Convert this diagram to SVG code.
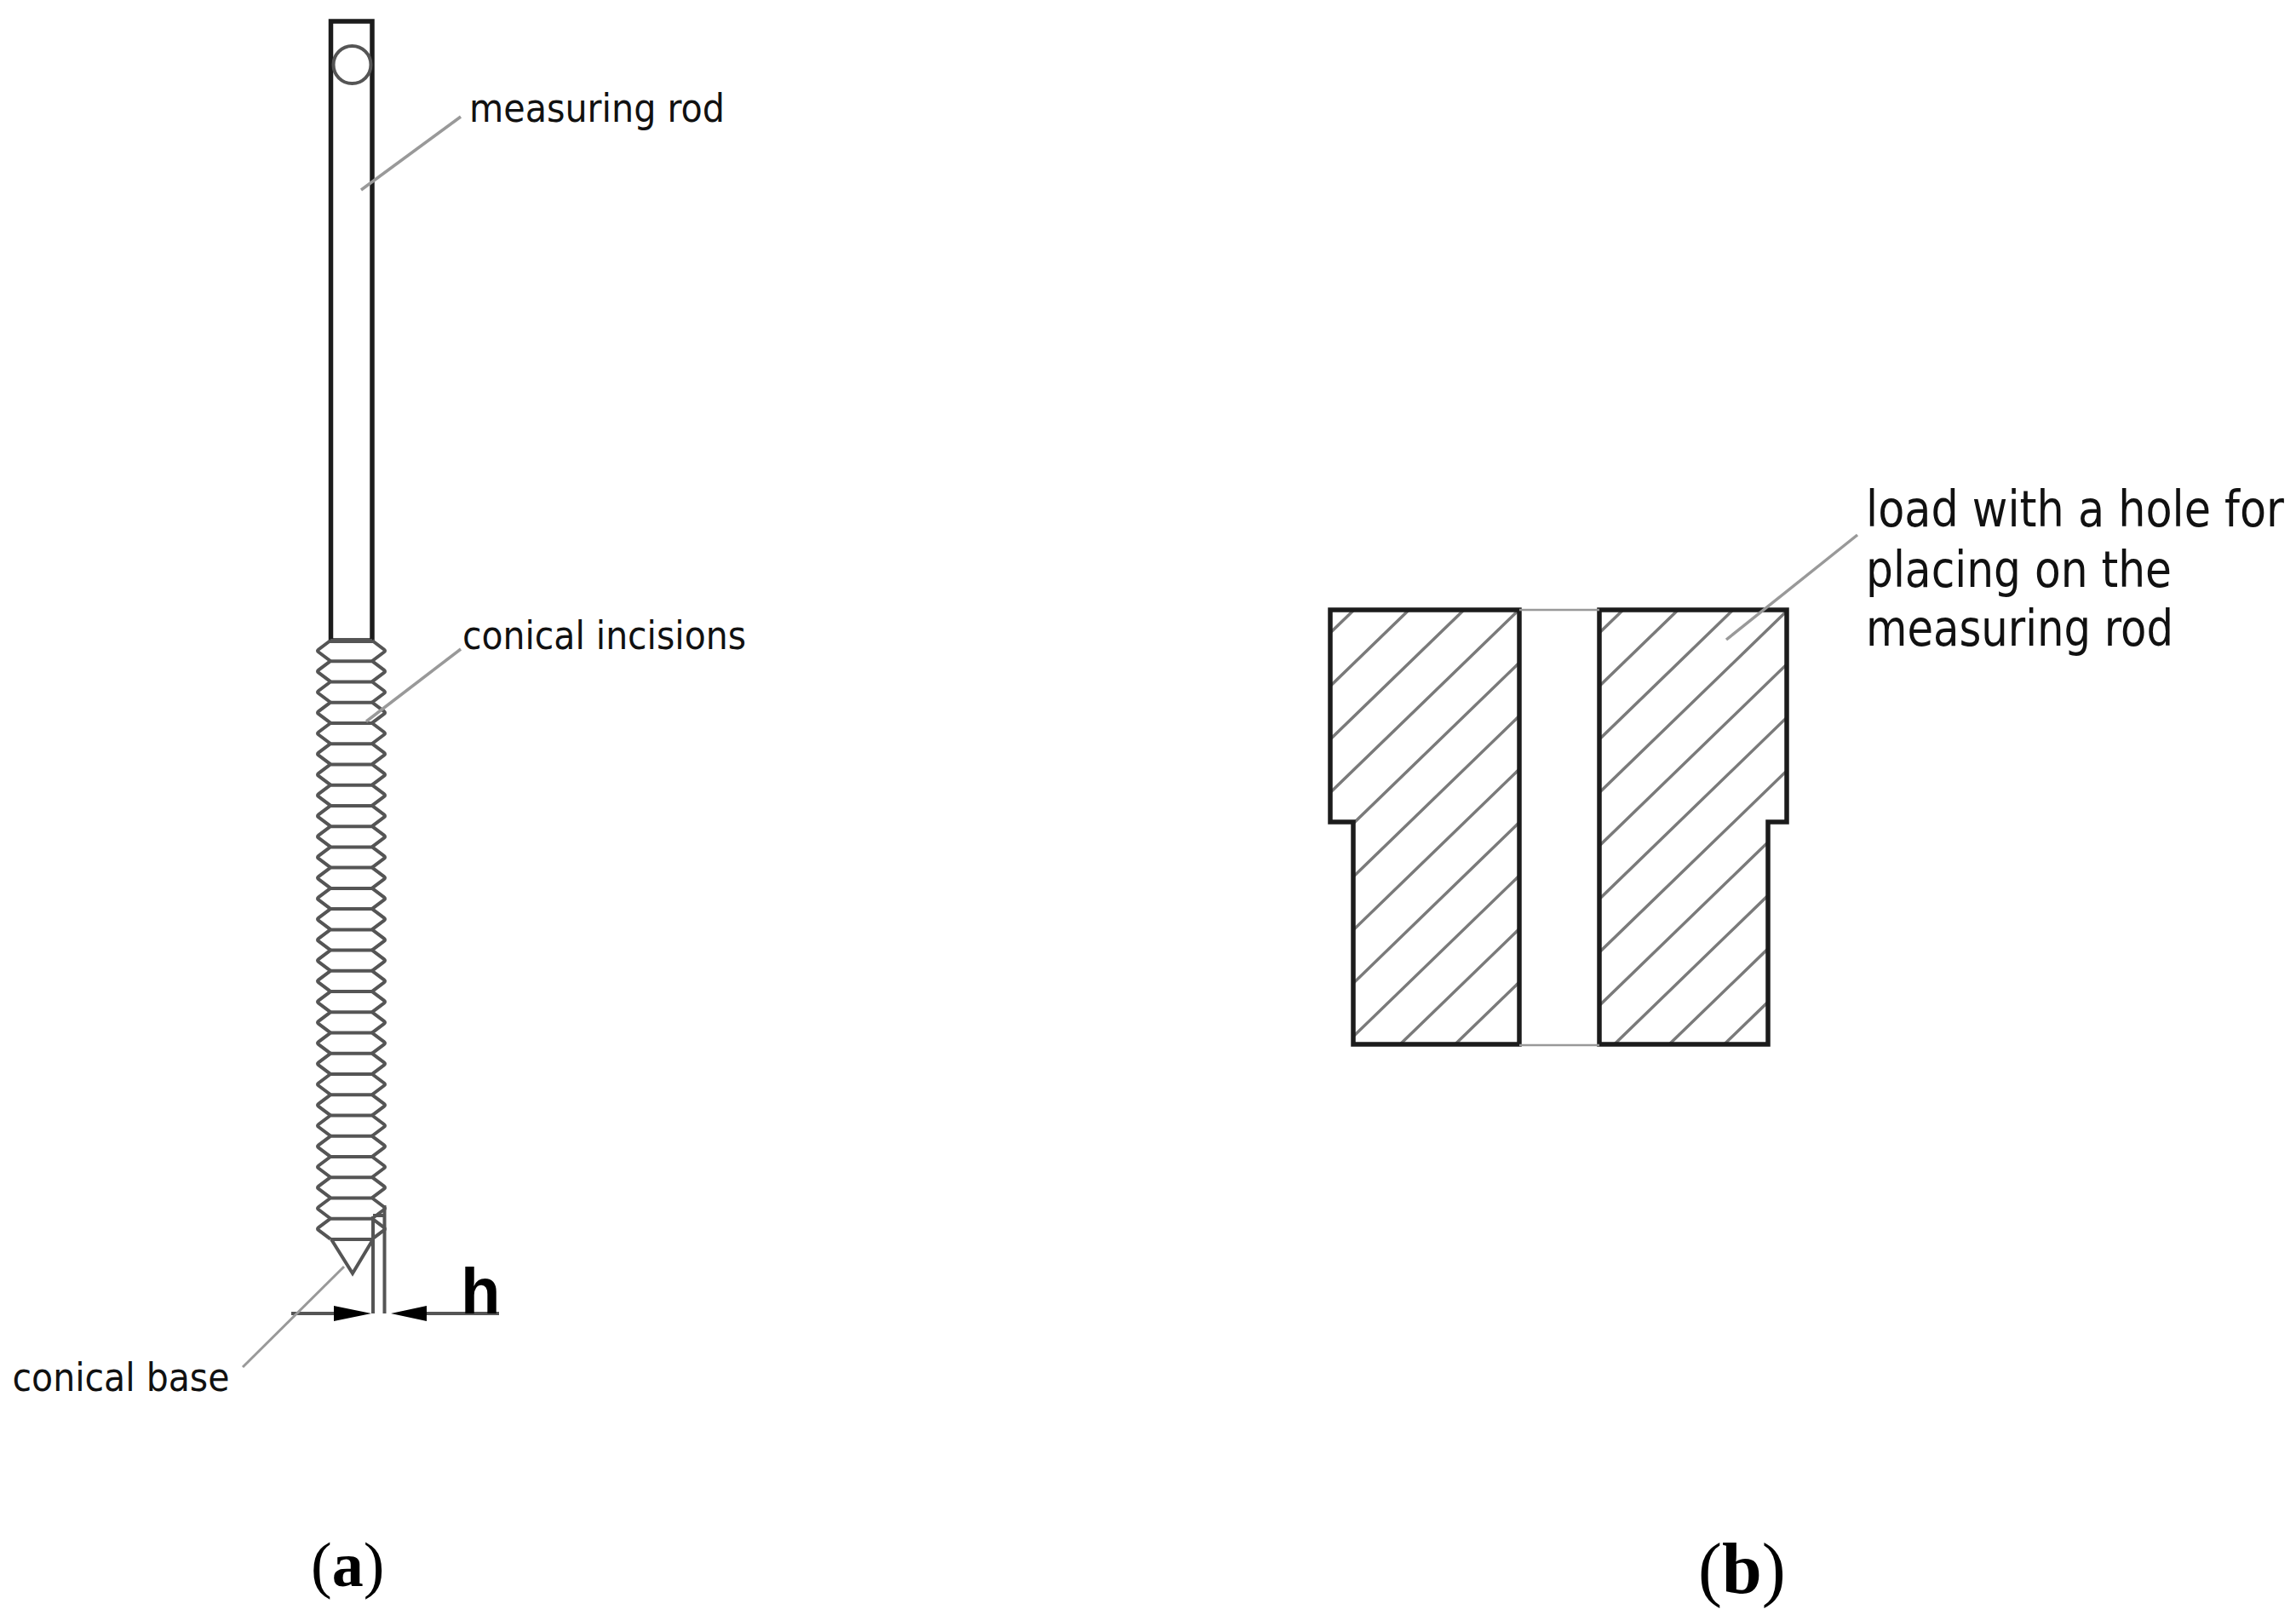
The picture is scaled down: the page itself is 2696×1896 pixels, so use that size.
<svg xmlns="http://www.w3.org/2000/svg" width="2696" height="1896" viewBox="0 0 2696 1896">
<style>
.o{fill:none;stroke:#1c1c1c;stroke-width:5.5}
.p{fill:none;stroke:#555;stroke-width:4}
.t{fill:none;stroke:#999;stroke-width:2.5}
.h{fill:none;stroke:#7a7a7a;stroke-width:3.5}
.l{fill:none;stroke:#999;stroke-width:3.5}
.x{font-family:"DejaVu Sans Condensed","DejaVu Sans",sans-serif;font-stretch:condensed;fill:#111}
.c{font-family:"Liberation Serif",serif;fill:#000}
</style>
<defs>
<clipPath id="cl"><path d="M1562 716H1784V1226H1589V965H1562Z"/></clipPath>
<clipPath id="cr"><path d="M1878 716H2098V965H2076V1226H1878Z"/></clipPath>
<path id="th" d="M388 0L374 10.500Q372 12 374 13.500L388 24M437 0L451 10.500Q453 12 451 13.500L437 24M388 0H437"/>
</defs>
<rect width="2696" height="1896" fill="#fff"/>
<g id="rod">
<rect class="o" x="388.500" y="25" width="48.500" height="727"/>
<circle class="p" cx="413.500" cy="76" r="22"/>
</g>
<g id="threads" class="p" fill="none">
<use href="#th" y="752"/><use href="#th" y="776.2"/><use href="#th" y="800.5"/><use href="#th" y="824.7"/><use href="#th" y="849"/><use href="#th" y="873.2"/><use href="#th" y="897.4"/><use href="#th" y="921.7"/><use href="#th" y="945.9"/><use href="#th" y="970.2"/><use href="#th" y="994.4"/><use href="#th" y="1018.6"/><use href="#th" y="1042.9"/><use href="#th" y="1067.1"/><use href="#th" y="1091.4"/><use href="#th" y="1115.6"/><use href="#th" y="1139.8"/><use href="#th" y="1164.1"/><use href="#th" y="1188.3"/><use href="#th" y="1212.6"/><use href="#th" y="1236.8"/><use href="#th" y="1261"/><use href="#th" y="1285.3"/><use href="#th" y="1309.5"/><use href="#th" y="1333.8"/><use href="#th" y="1358"/><use href="#th" y="1382.2"/><use href="#th" y="1406.5"/><use href="#th" y="1430.7"/>
</g>
<g id="cone"><path class="p" d="M388 1455H438M389 1455L414 1495L438 1455"/></g>
<g id="dimension">
<path class="p" d="M438 1428V1542M451.500 1415V1542M438 1427H451.500"/>
<path class="p" d="M342 1542H392M501 1542H586"/>
<path fill="#000" d="M392 1533L436 1542L392 1551ZM501 1533L459 1542L501 1551Z"/>
<text x="541" y="1542" style="font-family:'Liberation Sans',sans-serif;font-weight:700;font-size:76px;fill:#000">h</text>
</g>
<g id="load">
<g clip-path="url(#cl)" class="h">
<path d="M1562 743l222 -215M1562 805.500l222 -215M1562 868l222 -215M1562 930.500l222 -215M1562 993l222 -215M1562 1055.500l222 -215M1562 1118l222 -215M1562 1180.500l222 -215M1562 1243l222 -215M1562 1305.500l222 -215M1562 1368l222 -215"/>
</g>
<g clip-path="url(#cr)" class="h">
<path d="M1878 743l223 -216M1878 805.500l223 -216M1878 868l223 -216M1878 930.500l223 -216M1878 993l223 -216M1878 1055.500l223 -216M1878 1118l223 -216M1878 1180.500l223 -216M1878 1243l223 -216M1878 1305.500l223 -216M1878 1368l223 -216"/>
</g>
<path class="o" d="M1562 716H1784V1226H1589V965H1562Z"/>
<path class="o" d="M1878 716H2098V965H2076V1226H1878Z"/>
<path class="t" d="M1784 716H1878M1784 1227H1878"/>
</g>
<g id="connectors">
<path class="l" d="M541 137L424 223"/>
<path class="l" d="M541 762L430 847"/>
<path class="l" d="M404 1487L285 1605" style="stroke-width:3"/>
<path class="l" d="M2181 628L2027 751"/>
</g>
<g id="labels">
<text class="x" x="551" y="143" font-size="47" textLength="300" lengthAdjust="spacingAndGlyphs">measuring rod</text>
<text class="x" x="543" y="762" font-size="46" textLength="333" lengthAdjust="spacingAndGlyphs">conical incisions</text>
<text class="x" x="14.500" y="1633" font-size="46" textLength="255" lengthAdjust="spacingAndGlyphs">conical base</text>
<text class="x" x="2191" y="618" font-size="58" textLength="491" lengthAdjust="spacingAndGlyphs">load with a hole for</text>
<text class="x" x="2191" y="689" font-size="58" textLength="359" lengthAdjust="spacingAndGlyphs">placing on the</text>
<text class="x" x="2191" y="758" font-size="58" textLength="361" lengthAdjust="spacingAndGlyphs">measuring rod</text>
<text class="c" x="365" y="1862" font-size="74">(<tspan font-weight="700">a</tspan>)</text>
<text class="c" x="1994" y="1870" font-size="84">(<tspan font-weight="700">b</tspan>)</text>
</g>
</svg>
